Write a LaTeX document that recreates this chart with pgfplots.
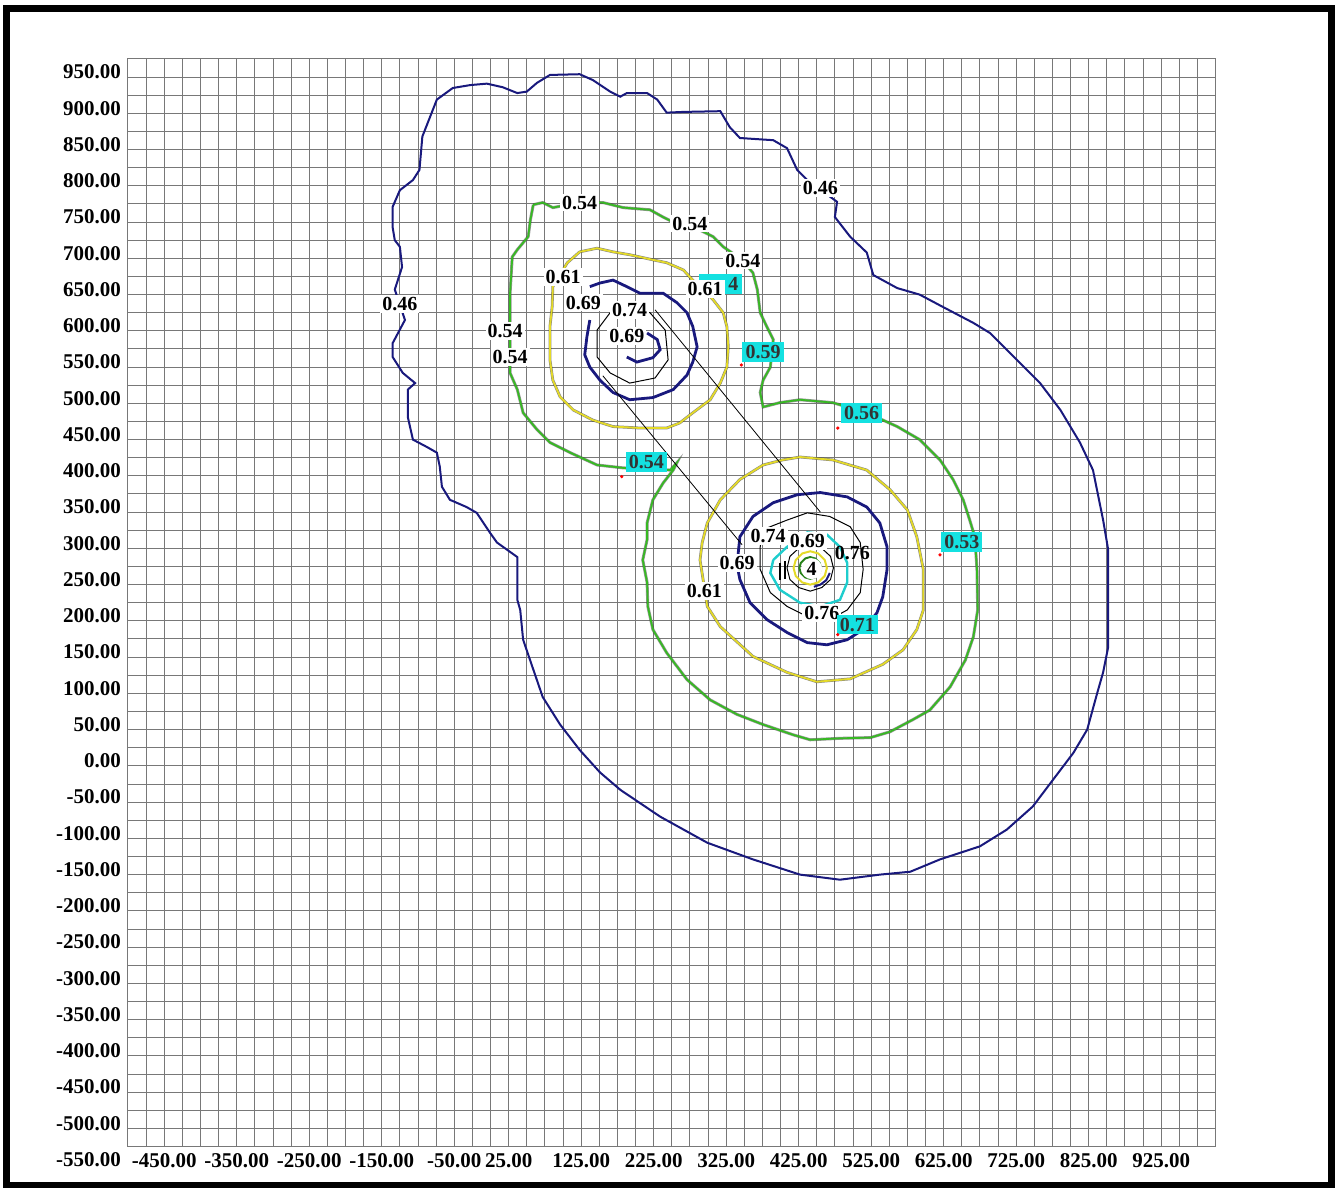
\documentclass[border=0pt]{standalone}
\usepackage{fontspec}
\setmainfont{Liberation Serif}
\usepackage{pgfplots}
\pgfplotsset{compat=1.18}

\definecolor{navyline}{RGB}{25,25,125}
\definecolor{greenline}{RGB}{55,185,35}
\definecolor{yellowline}{RGB}{228,218,40}
\definecolor{cyanline}{RGB}{30,205,205}
\definecolor{cyanbox}{RGB}{20,225,225}
\definecolor{gridgray}{RGB}{120,120,120}

\tikzset{
  wlab/.style={fill=white, inner sep=1pt, font=\bfseries\fontsize{10}{11}\selectfont},
  clab/.style={fill=cyanbox, inner sep=1.6pt, text=black!80, font=\bfseries\fontsize{10}{11}\selectfont},
}

\begin{document}
\begin{tikzpicture}
\useasboundingbox (0pt,0pt) rectangle (667.5pt,-594pt);
\draw[line width=3.5pt] (3.25pt,-4.25pt) rectangle (665.75pt,-592.5pt);

\begin{axis}[
  at={(64pt,-573.25pt)}, anchor=south west,
  scale only axis, width=543.75pt, height=543.75pt,
  xmin=-500, xmax=1000, ymin=-525, ymax=975,
  clip=false,
  axis line style={gridgray, line width=0.5pt},
  xtick={-450,-350,-250,-150,-50,25,125,225,325,425,525,625,725,825,925},
  xticklabels={-450.00,-350.00,-250.00,-150.00,-50.00,25.00,125.00,225.00,325.00,425.00,525.00,625.00,725.00,825.00,925.00},
  ytick={-500,-450,-400,-350,-300,-250,-200,-150,-100,-50,0,50,100,150,200,250,300,350,400,450,500,550,600,650,700,750,800,850,900,950},
  yticklabels={-500.00,-450.00,-400.00,-350.00,-300.00,-250.00,-200.00,-150.00,-100.00,-50.00,0.00,50.00,100.00,150.00,200.00,250.00,300.00,350.00,400.00,450.00,500.00,550.00,600.00,650.00,700.00,750.00,800.00,850.00,900.00,950.00},
  minor xtick={-500,-475,...,1000},
  minor ytick={-525,-500,...,975},
  grid=both,
  major grid style={gridgray, line width=0.5pt},
  minor grid style={gridgray, line width=0.5pt},
  major tick length=0pt, minor tick length=0pt,
  ticklabel style={font=\bfseries\fontsize{10.5}{12}\selectfont},
  yticklabel style={yshift=2.5pt},
]

% outer contour 0.46
\addplot[navyline, line width=1pt] coordinates {
(-52,935) (-28,939) (-5,941) (17,936) (37,928) (50,930) (64,942) (82,953) (123,954) (141,946) (165,930) (179,923) (188,928) (216,928) (230,919) (243,901) (266,902) (317,903) (330,881) (344,866) (390,863) (409,852) (423,822) (437,808) (478,778) (475,757) (496,730) (519,708) (528,677) (561,659) (592,650) (624,633) (666,611) (689,597) (726,560) (758,528) (786,491) (813,446) (831,408) (845,339) (852,298) (852,215) (852,164) (845,129) (837,101) (823,50) (804,18) (776,-19) (748,-56) (712,-88) (675,-111) (620,-129) (579,-146) (537,-150) (482,-157) (427,-150) (362,-129) (299,-106) (234,-70) (179,-33) (151,-9) (123,22) (96,57) (72,95) (59,133) (45,174) (41,215) (37,229) (37,288) (23,298) (9,308) (-1,322) (-19,349) (-33,357) (-56,367) (-67,385) (-70,413) (-74,432) (-88,440) (-107,450) (-114,481) (-114,519) (-104,528) (-121,542) (-135,564) (-135,583) (-118,615) (-132,657) (-122,688) (-125,716) (-132,725) (-135,743) (-135,771) (-125,794) (-107,808) (-98,822) (-94,868) (-74,919) (-52,935)
};

% contour 0.54
\pgfplotstableread{
x y
59 774
72 777
86 770
123 777
155 777
183 770
220 767
238 757
252 750
275 746
307 730
321 716
347 698
362 680
368 657
372 625
381 606
390 588
386 550
376 532
372 515
376 495
399 501
427 505
472 501
519 487
561 468
592 450
620 422
638 395
652 367
661 339
668 316
671 271
672 215
666 178
655 146
634 109
606 77
583 64
551 47
524 39
482 38
441 36
417 43
376 57
340 71
303 91
271 119
243 156
224 188
217 220
216 253
210 284
216 312
216 335
224 367
238 390
252 408
257 418
248 408
183 411
147 415
110 432
82 446
64 464
45 487
37 519
27 542
27 611
27 652
30 702
37 712
52 730
55 753
59 774
}\greencontour
\addplot[black!75, line width=1.5pt, opacity=0.55] table {\greencontour};
\addplot[greenline, line width=0.9pt] table {\greencontour};

% contours 0.61
\pgfplotstableread{
x y
123 709
147 714
169 709
192 705
224 698
243 694
266 684
279 670
307 643
321 625
326 606
328 578
326 550
317 528
303 505
279 487
261 473
243 466
206 466
169 468
141 477
114 491
96 509
86 532
82 560
82 606
85 633
86 661
106 694
123 709
}\yellowupper
\pgfplotstableread{
x y
427 426
472 422
519 408
551 381
575 353
588 316
597 271
597 215
588 188
569 160
541 140
496 120
450 116
409 129
362 151
317 192
299 220
289 284
292 308
299 335
317 367
344 395
376 415
403 422
427 426
}\yellowlower
\addplot[black!80, line width=1.4pt, opacity=0.6] table {\yellowupper};
\addplot[yellowline, line width=0.9pt] table {\yellowupper};
\addplot[black!80, line width=1.4pt, opacity=0.6] table {\yellowlower};
\addplot[yellowline, line width=0.9pt] table {\yellowlower};

% contours 0.69
\addplot[navyline, line width=1.4pt] coordinates {
(137,661) (151,666) (169,670) (188,661) (206,652) (238,652) (257,639) (271,625) (279,606) (285,578) (279,557) (271,539) (252,519) (224,508) (192,505) (169,515) (151,532) (137,550) (130,567) (133,592) (137,615)
};
\addplot[navyline, line width=1.4pt] coordinates {
(216,597) (230,588) (234,574) (224,563) (202,557) (188,564)
};
\addplot[navyline, line width=1.4pt] coordinates {
(423,374) (455,377) (492,371) (519,357) (537,335) (547,302) (547,271) (541,233) (533,211) (514,188) (492,174) (464,167) (437,170) (409,184) (381,202) (358,225) (344,257) (340,277) (344,316) (362,344) (390,363) (423,374)
};

% contours 0.74
\addplot[black, line width=0.5pt] coordinates {
(165,625) (147,601) (147,564) (165,542) (192,528) (227,535) (245,560) (241,601) (220,625) (192,632) (165,625)
};
\addplot[black, line width=0.5pt] coordinates {
(376,326) (409,339) (437,349) (468,344) (496,330) (510,308) (514,271) (510,239) (492,215) (468,202) (437,206) (409,220) (386,239) (372,271) (372,302) (376,326)
};

% contour 0.76
\addplot[cyanline, line width=1.2pt] coordinates {
(390,284) (409,302) (437,322) (464,319) (482,302) (492,280) (492,253) (482,229) (455,220) (427,225) (399,243) (386,266) (390,284)
};

% inner rings
\addplot[black, line width=0.5pt] coordinates {
(473,273) (469,289) (457,300) (441,305) (425,300) (413,289) (409,273) (413,257) (425,246) (441,241) (457,246) (469,257) (473,273)
};
\addplot[yellowline, line width=1pt] coordinates {
(464,273) (461,284) (452,293) (441,296) (430,293) (421,284) (418,273) (421,262) (430,253) (441,250) (452,253) (461,262) (464,273)
};
\addplot[greenline!70!black, line width=1pt] coordinates {
(456,273) (454,280) (448,286) (441,288) (434,286) (428,280) (426,273) (428,266) (434,260) (441,258) (448,260) (454,266) (456,273)
};
\addplot[navyline, line width=1pt] coordinates {
(446,247) (455,250) (463,256) (468,266)
};
\addplot[black, line width=0.8pt] coordinates {(399,280) (399,256)};
\addplot[black, line width=0.8pt] coordinates {(406,282) (406,258)};

% section lines
\addplot[black, line width=0.4pt] coordinates {(155,538) (347,305)};
\addplot[black, line width=0.4pt] coordinates {(227,629) (455,350)};

% label reference points
\addplot[only marks, mark=*, mark size=0.6pt, red] coordinates {
(181,399) (346,553) (479,466) (620,291) (479,181)
};

% contour labels
\node[wlab] at (axis cs:455,797) {0.46};
\node[wlab] at (axis cs:-125,637) {0.46};
\node[wlab] at (axis cs:123,777) {0.54};
\node[wlab] at (axis cs:275,748) {0.54};
\node[wlab] at (axis cs:348,697) {0.54};
\node[wlab] at (axis cs:20,600) {0.54};
\node[wlab] at (axis cs:27,564) {0.54};
\node[wlab] at (axis cs:100,674) {0.61};
\node[clab] at (axis cs:317,665) {\hspace*{13pt}4};
\node[wlab] at (axis cs:296,658) {0.61};
\node[wlab] at (axis cs:295,241) {0.61};
\node[wlab] at (axis cs:128,639) {0.69};
\node[wlab] at (axis cs:192,629) {0.74};
\node[wlab] at (axis cs:188,593) {0.69};
\node[wlab] at (axis cs:383,317) {0.74};
\node[wlab] at (axis cs:340,280) {0.69};
\node[wlab] at (axis cs:437,310) {0.69};
\node[wlab] at (axis cs:457,211) {0.76};
\node[font=\bfseries\fontsize{10}{11}\selectfont, inner sep=0.5pt] at (axis cs:499,294) {0.76};
\node[circle, fill=white, inner sep=0.8pt, font=\bfseries\fontsize{10}{11}\selectfont] at (axis cs:443,272) {4};
\node[clab] at (axis cs:215,419) {0.54};
\node[clab] at (axis cs:376,571) {0.59};
\node[clab] at (axis cs:512,487) {0.56};
\node[clab] at (axis cs:650,309) {0.53};
\node[clab] at (axis cs:506,195) {0.71};

% bottom value of the vertical scale
\node[anchor=east, yshift=2.5pt, inner sep=3.33pt, font=\bfseries\fontsize{10.5}{12}\selectfont] at (axis cs:-500,-550) {-550.00};
\end{axis}
\end{tikzpicture}
\end{document}
